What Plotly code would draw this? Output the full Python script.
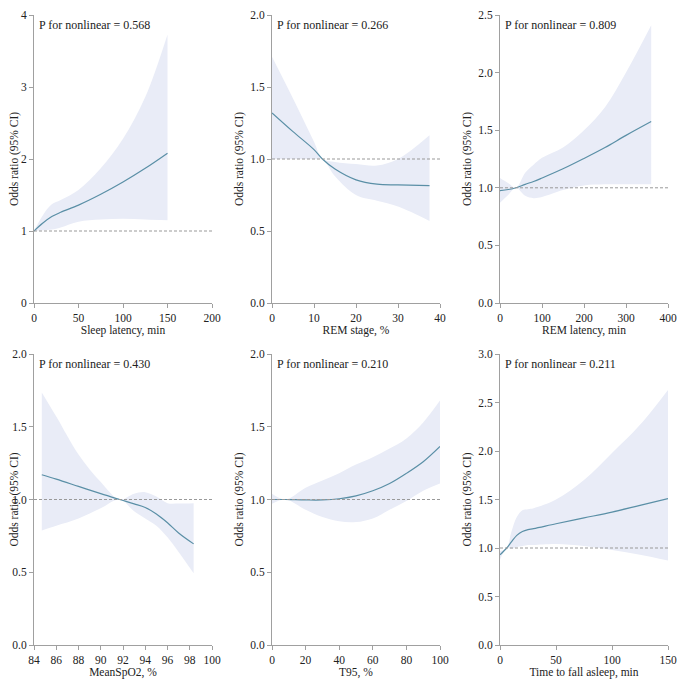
import plotly.graph_objects as go

# ---------------- data ----------------
sl_x = [0, 10, 20, 30, 50, 75, 100, 125, 150]
sl_y = [1.0, 1.11, 1.20, 1.26, 1.36, 1.51, 1.68, 1.87, 2.08]
sl_lo = [1.0, 1.01, 1.02, 1.05, 1.13, 1.16, 1.17, 1.16, 1.15]
sl_hi = [1.0, 1.22, 1.37, 1.43, 1.57, 1.87, 2.28, 2.86, 3.73]

rs_x = [0, 5, 10, 12, 15, 20, 25, 30, 37.5]
rs_y = [1.32, 1.19, 1.065, 1.0, 0.93, 0.855, 0.825, 0.82, 0.815]
rs_lo = [1.0, 1.0, 1.0, 1.0, 0.88, 0.75, 0.71, 0.67, 0.57]
rs_hi = [1.71, 1.42, 1.12, 1.0, 0.98, 0.965, 0.955, 1.0, 1.165]

rl_x = [0, 20, 38, 60, 80, 100, 150, 200, 250, 300, 360]
rl_y = [0.975, 0.985, 1.0, 1.03, 1.055, 1.085, 1.165, 1.255, 1.35, 1.455, 1.575]
rl_lo = [0.87, 0.94, 1.0, 0.93, 0.91, 0.92, 0.98, 1.02, 1.03, 1.03, 1.03]
rl_hi = [1.085, 1.04, 1.0, 1.13, 1.2, 1.26, 1.35, 1.5, 1.7, 2.0, 2.41]

sp_x = [84.7, 86, 88, 90, 91.7, 93, 94, 95, 96, 97, 98.35]
sp_y = [1.17, 1.14, 1.09, 1.04, 1.0, 0.97, 0.945, 0.9, 0.84, 0.77, 0.695]
sp_lo = [0.787, 0.82, 0.87, 0.94, 1.0, 0.92, 0.87, 0.82, 0.74, 0.64, 0.493]
sp_hi = [1.736, 1.57, 1.31, 1.12, 1.0, 1.04, 1.05, 1.02, 0.975, 0.972, 0.975]

t95_x = [0, 8, 20, 30, 40, 50, 60, 70, 80, 90, 100]
t95_y = [1.0, 1.0, 0.997, 0.997, 1.005, 1.025, 1.06, 1.11, 1.18, 1.26, 1.365]
t95_lo = [0.97, 1.0, 0.93, 0.88, 0.85, 0.845, 0.87, 0.93, 0.99, 1.06, 1.11]
t95_hi = [1.04, 1.0, 1.08, 1.13, 1.18, 1.24, 1.29, 1.35, 1.42, 1.53, 1.68]

tf_x = [0, 6, 10, 15, 20, 25, 30, 50, 75, 100, 125, 150]
tf_y = [0.93, 1.0, 1.06, 1.13, 1.17, 1.19, 1.2, 1.25, 1.31, 1.37, 1.44, 1.51]
tf_lo = [0.88, 1.0, 0.99, 1.01, 1.02, 1.03, 1.03, 1.04, 1.02, 0.98, 0.93, 0.87]
tf_hi = [0.97, 1.0, 1.16, 1.32, 1.39, 1.4, 1.41, 1.5, 1.7, 1.98, 2.27, 2.63]

titles = ["Sleep latency, min", "REM stage, %", "REM latency, min",
          "MeanSpO2, %", "T95, %", "Time to fall asleep, min"]
p_text = ["P for nonlinear = 0.568", "P for nonlinear = 0.266", "P for nonlinear = 0.809",
          "P for nonlinear = 0.430", "P for nonlinear = 0.210", "P for nonlinear = 0.211"]
x_ranges = [[0, 200], [0, 40], [0, 400], [84, 100], [0, 100], [0, 150]]
x_dticks = [50, 10, 100, 2, 20, 50]
y_ranges = [[0, 4], [0, 2], [0, 2.5], [0, 2], [0, 2], [0, 3]]
y_dticks = [1, 0.5, 0.5, 0.5, 0.5, 0.5]
y_formats = ["d", ".1f", ".1f", ".1f", ".1f", ".1f"]

panels = [(sl_x, sl_y, sl_lo, sl_hi), (rs_x, rs_y, rs_lo, rs_hi),
          (rl_x, rl_y, rl_lo, rl_hi), (sp_x, sp_y, sp_lo, sp_hi),
          (t95_x, t95_y, t95_lo, t95_hi), (tf_x, tf_y, tf_lo, tf_hi)]

# ---------------- layout geometry ----------------
OFF = 8  # page body margin
W = H = 685 - OFF
col_px = [(34, 212), (272, 440), (500, 668)]
row_px = [(15, 303), (354, 645)]

LINE = "#5a8fa6"
BAND = "rgb(233,236,247)"
AX = "#a0a0a0"
TXT = "#222222"
FONT = "Liberation Serif"

fig = go.Figure()
layout = dict(width=W, height=H, margin=dict(l=0, r=0, t=0, b=0, autoexpand=False),
              paper_bgcolor="white", plot_bgcolor="white", showlegend=False,
              font=dict(family=FONT, size=11, color=TXT))
shapes = []
annots = []

for i, (xs, ys, lo, hi) in enumerate(panels):
    r, c = divmod(i, 3)
    n = i + 1
    xa = "x" if n == 1 else f"x{n}"
    ya = "y" if n == 1 else f"y{n}"
    x0, x1 = (v - OFF for v in col_px[c])
    y0, y1 = (v - OFF for v in row_px[r])
    layout[f"xaxis{'' if n == 1 else n}"] = dict(
        domain=[x0 / W, x1 / W], anchor=ya, range=x_ranges[i], dtick=x_dticks[i],
        tick0=x_ranges[i][0], showline=True, linecolor=AX, linewidth=1,
        ticks="outside", ticklen=4, tickcolor=AX, showgrid=False, zeroline=False,
        automargin=False, ticklabeloverflow="allow",
        title=dict(text=titles[i], standoff=2, font=dict(family=FONT, size=11.5)),
        tickfont=dict(family=FONT, size=11.5))
    layout[f"yaxis{'' if n == 1 else n}"] = dict(
        domain=[1 - y1 / H, 1 - y0 / H], anchor=xa, range=y_ranges[i],
        dtick=y_dticks[i], tickformat=y_formats[i], showline=True, linecolor=AX,
        linewidth=1, ticks="outside", ticklen=4, tickcolor=AX, showgrid=False,
        zeroline=False, automargin=False, ticklabeloverflow="allow",
        title=dict(text="Odds ratio (95% CI)", standoff=4,
                   font=dict(family=FONT, size=11.5)),
        tickfont=dict(family=FONT, size=11.5))
    fig.add_trace(go.Scatter(x=xs, y=lo, mode="lines", line=dict(width=0, shape="spline"),
                             xaxis=xa, yaxis=ya, hoverinfo="skip"))
    fig.add_trace(go.Scatter(x=xs, y=hi, mode="lines", line=dict(width=0, shape="spline"),
                             fill="tonexty", fillcolor=BAND, xaxis=xa, yaxis=ya,
                             hoverinfo="skip"))
    shapes.append(dict(type="line", xref=f"{xa} domain", yref=ya, x0=0, x1=1, y0=1, y1=1,
                       line=dict(color="#999999", width=1, dash="3px,2px")))
    fig.add_trace(go.Scatter(x=xs, y=ys, mode="lines",
                             line=dict(color=LINE, width=1.2, shape="spline"),
                             xaxis=xa, yaxis=ya))
    annots.append(dict(xref=f"{xa} domain", yref=f"{ya} domain", x=0.015, y=0.995,
                       xanchor="left", yanchor="top", showarrow=False, text=p_text[i],
                       font=dict(family=FONT, size=12, color=TXT)))

layout["shapes"] = shapes
layout["annotations"] = annots
fig.update_layout(**layout)
fig.write_html("out.html")
